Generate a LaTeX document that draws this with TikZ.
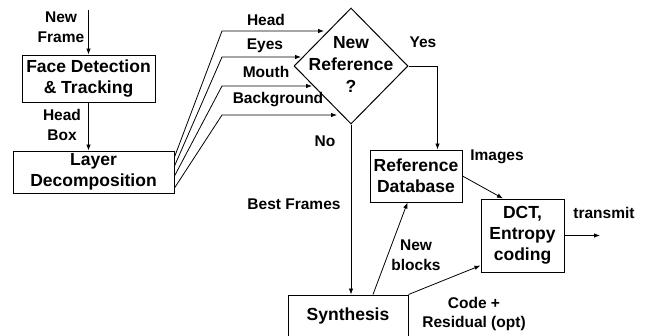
\documentclass[tikz,border=0pt]{standalone}
\usepackage{fontspec}
\setmainfont{Liberation Sans}
\usetikzlibrary{shapes.geometric,arrows.meta}

\begin{document}
\begin{tikzpicture}
[x=1pt,y=-1pt]
\tikzset{blk/.style={rectangle,draw,line width=1pt,align=center,inner sep=0pt,font=\fontsize{17.5}{21}\selectfont\bfseries}}
\tikzset{lbl/.style={align=center,inner sep=0pt,font=\fontsize{15.5}{19.5}\selectfont\bfseries}}
\tikzset{arr/.style={-{Latex[length=6pt,width=4.5pt]},line width=0.8pt}}
\clip (0,0) rectangle (645,335);

\node [blk,minimum width=133pt,minimum height=47pt] (fdt) at (88.5,78.5) {Face Detection\\\& Tracking};
\node [blk,minimum width=161pt,minimum height=42pt] (ld) at (93.5,172) {Layer\\Decomposition};
\node [draw,diamond,line width=1pt,minimum width=114pt,minimum height=116pt,inner sep=0pt] (dmd) at (351,66) {};
\node [align=center,inner sep=0pt,font=\fontsize{17.5}{22}\selectfont\bfseries] (dmdtxt) at (351,64) {New\\Reference\\?};
\node [blk,minimum width=92pt,minimum height=52pt] (refdb) at (416,176) {Reference\\Database};
\node [blk,minimum width=83pt,minimum height=73pt] (dct) at (522.5,235.5) {DCT,\\Entropy\\coding};
\node [blk,minimum width=120pt,minimum height=42pt] (syn) at (348,316) {Synthesis};
\coordinate (nf) at (88.5,10);
\coordinate (tx) at (600,235.5);
\coordinate (dctn) at ([xshift=-19.5pt]dct.north);
\coordinate (dctw) at ([yshift=-30pt]dct.west);
\coordinate (synn) at ([xshift=25pt]syn.north);
\coordinate (refs) at ([xshift=-8.5pt]refdb.south);

\node [lbl] (nfl) at (61,27) {New\\Frame};
\node [lbl] (hbl) at (62,125) {Head\\Box};
\node [lbl] (hdl) at (266,20) {Head};
\node [lbl] (eyl) at (265,46) {Eyes};
\node [lbl] (mol) at (266,72) {Mouth};
\node [lbl] (bgl) at (278,100) {Background};
\node [lbl] (yl) at (423,42) {Yes};
\node [lbl] (nol) at (325,141) {No};
\node [lbl] (bfl) at (294,204) {Best Frames};
\node [lbl] (iml) at (497,157) {Images};
\node [lbl] (nbl) at (416,255) {New\\blocks};
\node [lbl] (crl) at (474,314) {Code +\\Residual (opt)};
\node [lbl] (trl) at (604,213) {transmit};

\foreach \from/\to in {nf/fdt.north,fdt.south/fdt.south |- ld.north,dmd.south/dmd.south |- syn.north,refdb.east/dctn,synn/refs,syn.north east/dctw,dct.east/tx}
	\draw[arr] (\from) -- (\to);
\draw[arr] (dmd.east) -| ([xshift=21.5pt]refdb.north);
\foreach \sy/\ly/\ex in {157/31/324,166/57/301,176/86/312,188/115/337}
	\draw[arr] (ld.east |- 0,\sy) -- (222,\ly) -- (\ex,\ly);

\end{tikzpicture}
\end{document}
